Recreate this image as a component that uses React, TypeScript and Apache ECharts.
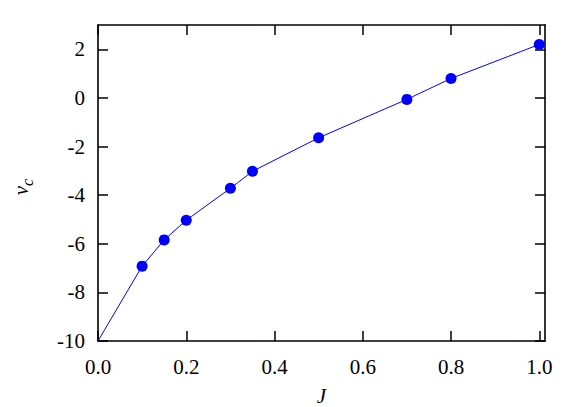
import React, { useEffect, useRef } from 'react';
import * as echarts from 'echarts';

// Data
const jValues = [0.1, 0.15, 0.2, 0.3, 0.35, 0.5, 0.7, 0.8, 1.0];
const vcValues = [-6.92, -5.84, -5.03, -3.72, -3.02, -1.64, -0.06, 0.8, 2.2];
const curveStartJ = 0;
const curveStartVc = -10;
const xTicks = [0, 0.2, 0.4, 0.6, 0.8, 1.0];
const yTicks = [-10, -8, -6, -4, -2, 0, 2];
const xRange = [0, 1.013];
const yRange = [-10, 3];

const FONT = 'Liberation Serif';
const BLUE = '#0000ff';

function frameAxis(position: string, ticks: number[], range: number[], showLabel: boolean, fmt: (v: number) => string, margin: number) {
  return {
    type: 'value',
    position,
    min: range[0],
    max: range[1],
    axisLine: { show: true, onZero: false, lineStyle: { color: '#000', width: 1.6 } },
    axisTick: { show: true, inside: true, length: 10, customValues: ticks, lineStyle: { color: '#000', width: 1.5 } },
    axisLabel: {
      show: showLabel,
      customValues: ticks,
      formatter: fmt,
      color: '#000',
      fontFamily: FONT,
      fontSize: 21,
      margin,
    },
    splitLine: { show: false },
  };
}

export default function App() {
  const ref = useRef<HTMLDivElement>(null);
  useEffect(() => {
    if (!ref.current) return;
    const chart = echarts.init(ref.current, undefined, { renderer: 'svg' });
    const points = jValues.map((j, i) => [j, vcValues[i]]);
    const xFmt = (v: number) => v.toFixed(1);
    const yFmt = (v: number) => String(v);
    chart.setOption({
      animation: false,
      backgroundColor: '#fff',
      grid: { left: 98, right: 36, top: 25, bottom: 66, containLabel: false, outerBoundsMode: 'none' },
      xAxis: [
        {
          ...frameAxis('bottom', xTicks, xRange, true, xFmt, 15),
          name: 'J',
          nameLocation: 'middle',
          nameGap: 44,
          nameTextStyle: { fontFamily: FONT, fontStyle: 'italic', fontSize: 21, color: '#000' },
        },
        frameAxis('top', xTicks, xRange, false, xFmt, 15),
      ],
      yAxis: [
        {
          ...frameAxis('left', yTicks, yRange, true, yFmt, 13),
          name: '{v|v}{c|c}',
          nameLocation: 'middle',
          nameRotate: 90,
          nameGap: 63,
          nameTextStyle: {
            color: '#000',
            rich: {
              v: { fontFamily: FONT, fontStyle: 'italic', fontSize: 21, lineHeight: 28, color: '#000' },
              c: { fontFamily: FONT, fontStyle: 'italic', fontSize: 16, lineHeight: 16, verticalAlign: 'bottom', padding: [0, 8, 0, 0], color: '#000' },
            },
          },
        },
        frameAxis('right', yTicks, yRange, false, yFmt, 13),
      ],
      series: [
        {
          type: 'line',
          data: [[curveStartJ, curveStartVc], ...points],
          showSymbol: false,
          symbol: 'none',
          lineStyle: { color: BLUE, width: 1 },
          z: 2,
        },
        {
          type: 'scatter',
          data: points,
          symbol: 'circle',
          symbolSize: 11,
          itemStyle: { color: BLUE, opacity: 1 },
          z: 3,
        },
      ],
    });
    return () => chart.dispose();
  }, []);
  return <div ref={ref} style={{ position: 'absolute', left: 0, top: 0, width: 581, height: 407 }} />;
}
